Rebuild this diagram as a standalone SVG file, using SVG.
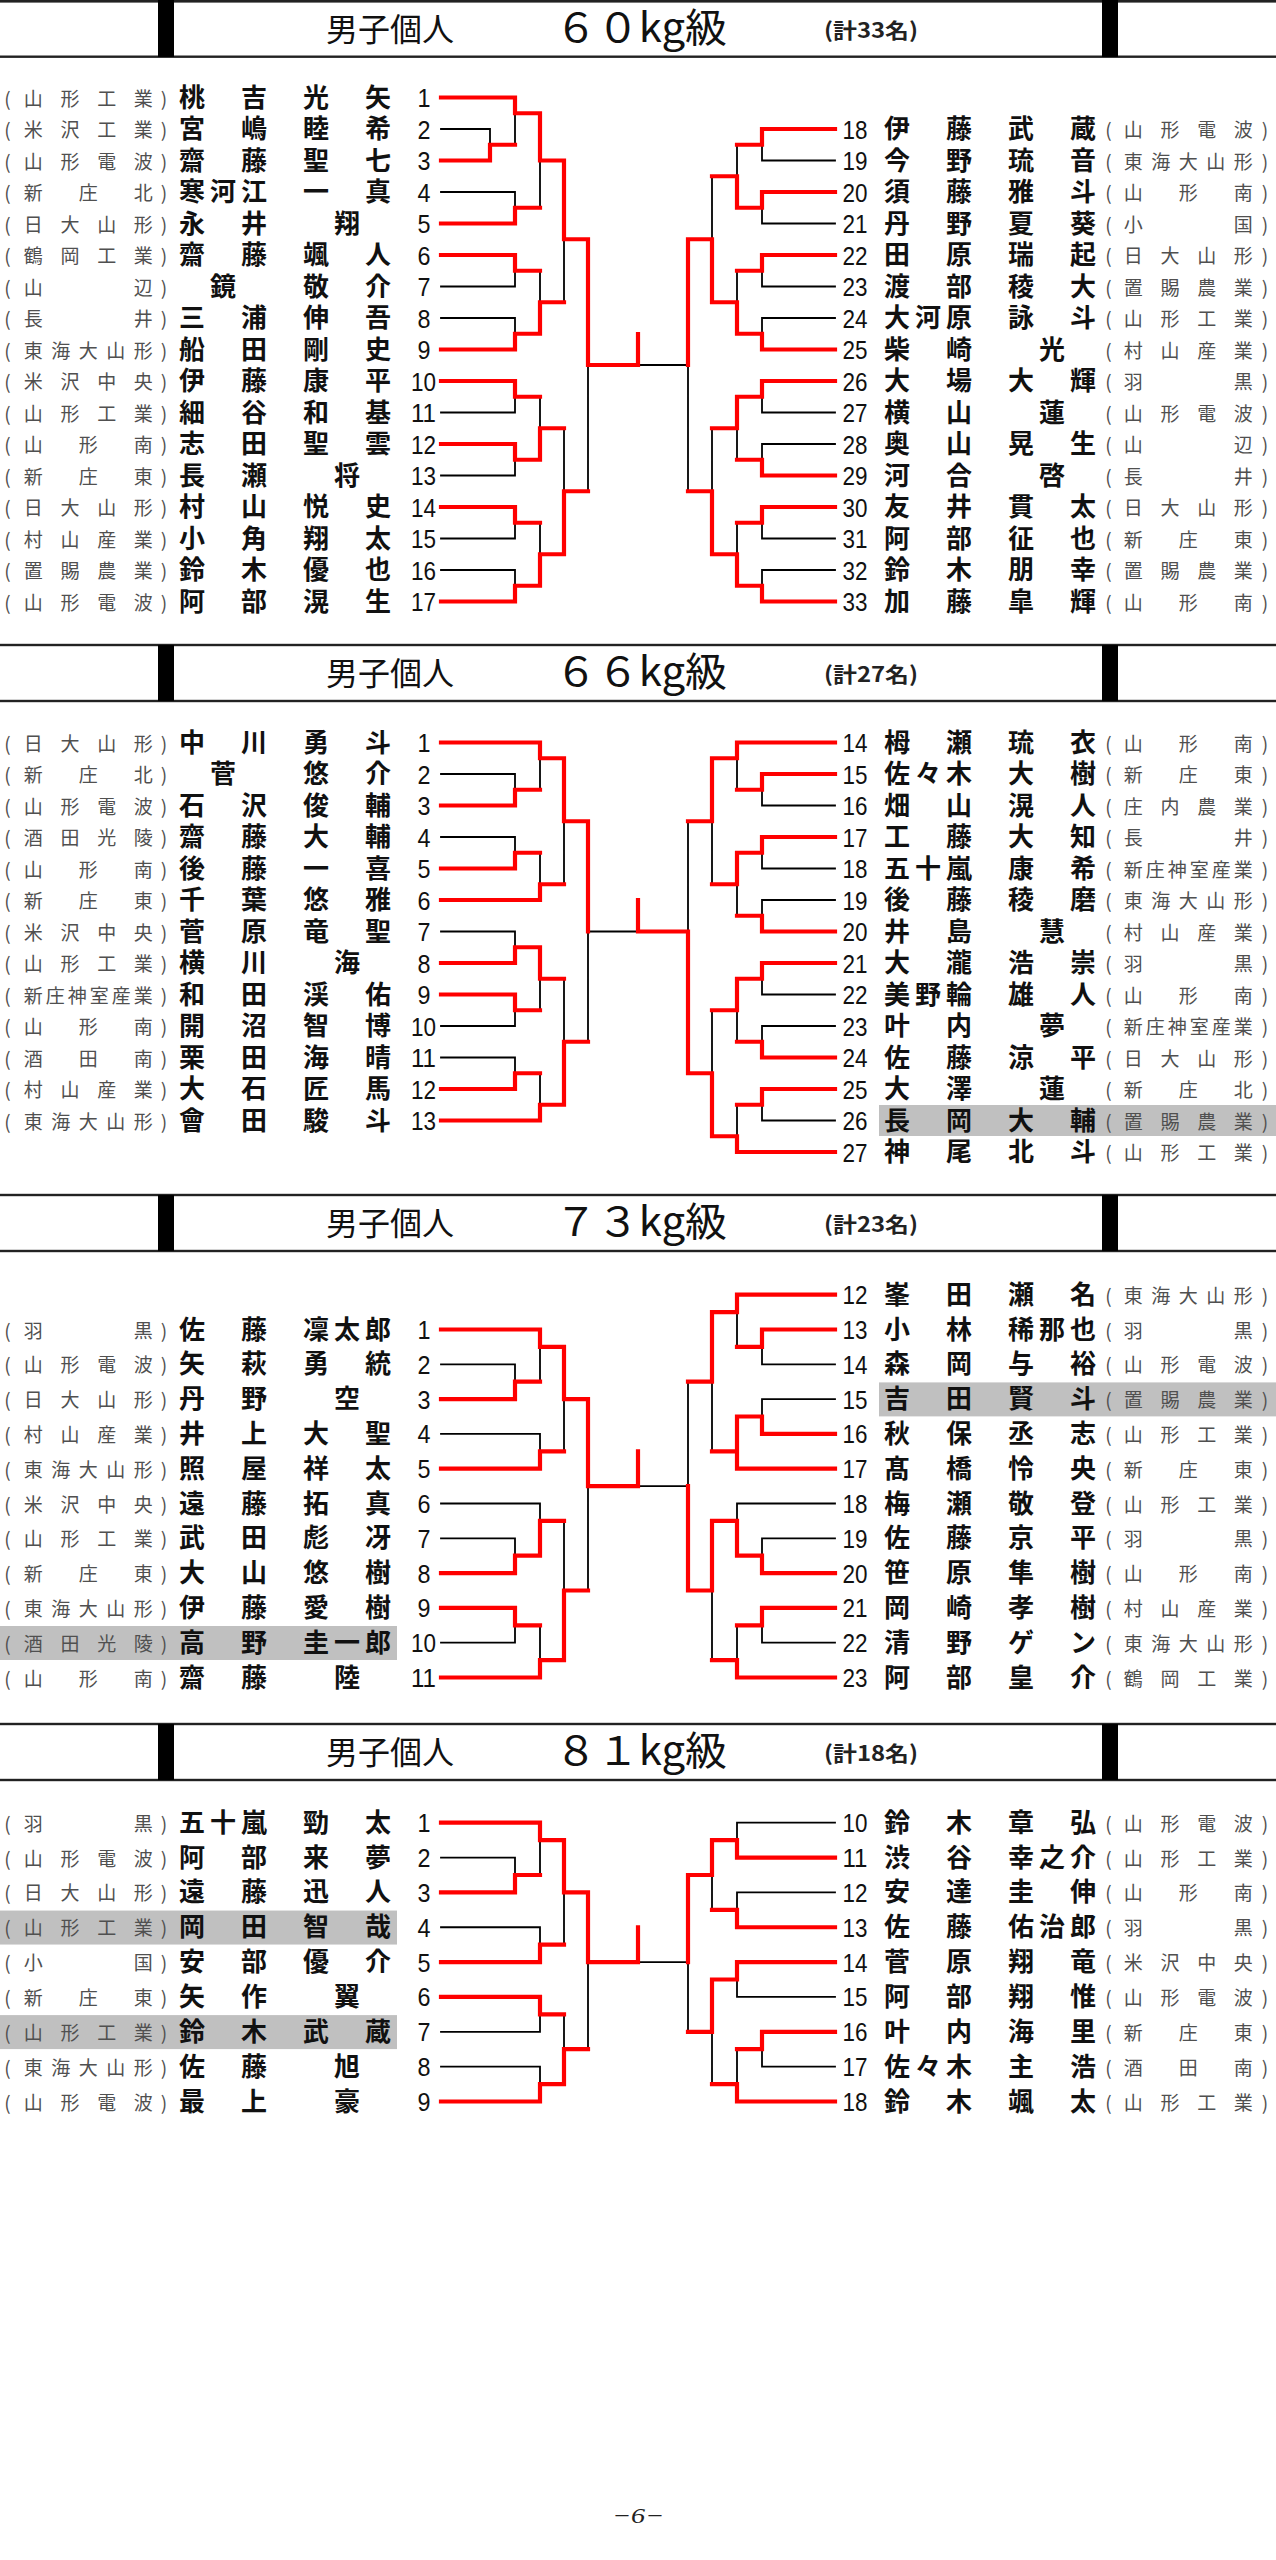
<svg xmlns="http://www.w3.org/2000/svg" width="1276" height="2560" viewBox="0 0 1276 2560">
<style>
.bg{fill:#fff}
.hl{fill:#c0c0c0}
.rule{fill:#222}
.bar{fill:#000}
.t1{font-family:"Noto Sans CJK JP","Noto Sans CJK SC",sans-serif;font-size:32px;fill:#111}
.t2{font-family:"Noto Sans CJK JP","Noto Sans CJK SC",sans-serif;font-size:40px;fill:#111}
.t3{font-family:"Noto Sans CJK JP","Noto Sans CJK SC",sans-serif;font-size:21px;font-weight:700;fill:#222}
.s{font-family:"Noto Sans CJK JP","Noto Sans CJK SC",sans-serif;font-size:19px;fill:#505050;text-anchor:middle}
.n{font-family:"Noto Sans CJK JP","Noto Sans CJK SC",sans-serif;font-size:26px;font-weight:700;fill:#111;text-anchor:middle}
.d{font-family:"Liberation Sans",Arial,sans-serif;font-size:26px;fill:#111;text-anchor:middle}
.blk{fill:none;stroke:#000;stroke-width:1.8;stroke-linecap:square}
.red{fill:none;stroke:#ff0000;stroke-width:4.2;stroke-linecap:square;stroke-linejoin:miter}
.ft{font-family:"Liberation Serif",serif;font-style:italic;font-size:22px;fill:#222;text-anchor:middle}
</style>
<rect class="bg" x="0" y="0" width="1276" height="2560"/>

<!-- headers -->
<g id="hdr60">
<rect class="rule" x="0" y="0" width="1276" height="2.6"/>
<rect class="rule" x="0" y="55.5" width="1276" height="2.4"/>
<rect class="bar" x="158" y="0" width="16" height="57"/>
<rect class="bar" x="1102" y="0" width="16" height="57"/>
<text class="t1" x="326" y="41">男子個人</text>
<text class="t2" x="555" y="42" textLength="172" lengthAdjust="spacingAndGlyphs">６０kg級</text>
<text class="t3" x="824" y="38" textLength="94" lengthAdjust="spacingAndGlyphs">(計33名)</text>
</g>
<g id="hdr66">
<rect class="rule" x="0" y="643.8" width="1276" height="2.4"/>
<rect class="rule" x="0" y="699.8" width="1276" height="2.4"/>
<rect class="bar" x="158" y="645" width="16" height="56"/>
<rect class="bar" x="1102" y="645" width="16" height="56"/>
<text class="t1" x="326" y="685">男子個人</text>
<text class="t2" x="555" y="686" textLength="172" lengthAdjust="spacingAndGlyphs">６６kg級</text>
<text class="t3" x="824" y="682" textLength="94" lengthAdjust="spacingAndGlyphs">(計27名)</text>
</g>
<g id="hdr73">
<rect class="rule" x="0" y="1193.8" width="1276" height="2.4"/>
<rect class="rule" x="0" y="1249.8" width="1276" height="2.4"/>
<rect class="bar" x="158" y="1195" width="16" height="56"/>
<rect class="bar" x="1102" y="1195" width="16" height="56"/>
<text class="t1" x="326" y="1235">男子個人</text>
<text class="t2" x="555" y="1236" textLength="172" lengthAdjust="spacingAndGlyphs">７３kg級</text>
<text class="t3" x="824" y="1232" textLength="94" lengthAdjust="spacingAndGlyphs">(計23名)</text>
</g>
<g id="hdr81">
<rect class="rule" x="0" y="1722.8" width="1276" height="2.4"/>
<rect class="rule" x="0" y="1778.8" width="1276" height="2.4"/>
<rect class="bar" x="158" y="1724" width="16" height="56"/>
<rect class="bar" x="1102" y="1724" width="16" height="56"/>
<text class="t1" x="326" y="1764">男子個人</text>
<text class="t2" x="555" y="1765" textLength="172" lengthAdjust="spacingAndGlyphs">８１kg級</text>
<text class="t3" x="824" y="1761" textLength="94" lengthAdjust="spacingAndGlyphs">(計18名)</text>
</g>

<!-- connectors -->
<g id="connectors">
<path class="blk" d="M441 129H490M441 192H515M441 286.5H515M441 318H515M441 412.5H515M441 475.5H515M441 538.5H515M441 570H515
M490 129V144.75M515 113.25V144.75M515 192V207.75M540 160.5V207.75M515 270.75V286.5M515 318V333.75M540 270.75V302.25M564 239.25V302.25M515 396.75V412.5M515 459.75V475.5M540 396.75V428.25M515 522.75V538.5M515 570V585.75M540 522.75V554.25M564 428.25V491.25M588 365V491.25
M638 365H688
M762 160.5H835M762 223.5H835M762 286.5H835M762 318H835M762 412.5H835M762 444H835M762 538.5H835M762 570H835
M762 144.75V160.5M762 207.75V223.5M762 270.75V286.5M762 318V333.75M737 144.75V176.25M737 270.75V302.25M712 176.25V239.25M762 396.75V412.5M762 444V459.75M737 428.25V459.75M762 522.75V538.5M762 570V585.75M737 522.75V554.25M712 428.25V491.25M688 365V491.25"/>
<path class="red" d="M441 97.5H515V113.25H540M441 160.5H490V144.75H515M441 223.5H515V207.75H540M540 113.25V160.5H564M441 255H515V270.75H540M441 349.5H515V333.75H540M540 333.75V302.25H564M564 160.5V239.25H588
M441 381H515V396.75H540M441 444H515V459.75H540M540 459.75V428.25H564M441 507H515V522.75H540M441 601.5H515V585.75H540M540 585.75V554.25H564M564 554.25V491.25H588M588 239.25V365H638M638 334V365
M835 129H762V144.75H737M835 192H762V207.75H737M835 255H762V270.75H737M835 349.5H762V333.75H737M737 207.75V176.25H712M737 333.75V302.25H712M712 302.25V239.25H688
M835 381H762V396.75H737M835 475.5H762V459.75H737M737 396.75V428.25H712M835 507H762V522.75H737M835 601.5H762V585.75H737M737 585.75V554.25H712M712 554.25V491.25H688M688 239.25V365"/>

<path class="blk" d="M441 774H515M441 837H515M441 931.5H515M441 1026H515M441 1057.5H515
M515 774V789.75M540 758.25V789.75M515 837V852.75M540 852.75V884.25M564 821.25V884.25M515 931.5V947.25M515 1010.25V1026M540 978.75V1010.25M515 1057.5V1073.25M540 1073.25V1104.75M564 978.75V1041.75M588 931.5V1041.75M588 931.5H638
M762 805.5H835M762 868.5H835M762 900H835M762 994.5H835M762 1026H835M762 1120.5H835
M762 789.75V805.5M737 758.25V789.75M762 852.75V868.5M762 900V915.75M737 884.25V915.75M712 821.25V884.25M762 978.75V994.5M762 1026V1041.75M737 1010.25V1041.75M762 1104.75V1120.5M737 1104.75V1136.25M712 1010.25V1073.25M688 821.25V931.5"/>
<path class="red" d="M441 742.5H540V758.25H564M441 805.5H515V789.75H540M441 868.5H515V852.75H540M441 900H540V884.25H564M564 758.25V821.25H588
M441 963H515V947.25H540M441 994.5H515V1010.25H540M540 947.25V978.75H564M441 1089H515V1073.25H540M441 1120.5H540V1104.75H564M564 1104.75V1041.75H588M588 821.25V931.5
M638 900V931.5H688
M835 742.5H737V758.25H712M835 774H762V789.75H737M835 837H762V852.75H737M835 931.5H762V915.75H737M737 852.75V884.25H712M712 758.25V821.25H688
M835 963H762V978.75H737M835 1057.5H762V1041.75H737M737 978.75V1010.25H712M835 1089H762V1104.75H737M835 1152H737V1136.25H712M712 1136.25V1073.25H688M688 1073.25V931.5"/>

<path class="blk" d="M441 1364.3H515M441 1433.9H540M441 1503.5H540M441 1538.3H515M441 1642.7H515
M515 1364.3V1381.7M540 1346.9V1381.7M540 1433.9V1451.3M564 1399.1V1451.3M515 1538.3V1555.7M540 1503.5V1520.9M515 1625.3V1642.7M540 1625.3V1660.1M564 1520.9V1590.5M588 1486.1V1590.5M638 1486.1H688
M762 1364.3H835M762 1399.1H835M737 1503.5H835M762 1538.3H835M762 1642.7H835
M762 1346.9V1364.3M737 1312.1V1346.9M762 1399.1V1416.5M712 1381.7V1451.3M762 1538.3V1555.7M737 1503.5V1520.9M762 1625.3V1642.7M737 1625.3V1660.1M712 1590.5V1660.1M688 1381.7V1486.1"/>
<path class="red" d="M441 1329.5H540V1346.9H564M441 1399.1H515V1381.7H540M441 1468.7H540V1451.3H564M564 1346.9V1399.1H588
M441 1573.1H515V1555.7H540M540 1555.7V1520.9H564M441 1607.9H515V1625.3H540M441 1677.5H540V1660.1H564M564 1660.1V1590.5H588M588 1399.1V1486.1H638M638 1451.3V1486.1
M835 1294.7H737V1312.1H712M835 1329.5H762V1346.9H737M835 1433.9H762V1416.5H737M737 1416.5V1468.7H835M737 1451.3H712M712 1312.1V1381.7H688
M835 1573.1H762V1555.7H737M737 1555.7V1520.9H712M835 1607.9H762V1625.3H737M835 1677.5H737V1660.1H712M712 1520.9V1590.5H688M688 1590.5V1486.1"/>

<path class="blk" d="M441 1857.55H515M441 1927.25H540M441 2031.8H540M441 2066.65H540
M515 1857.55V1875M540 1840.1V1875M540 1927.25V1944.7M564 1892.4V1944.7M540 2014.4V2031.8M540 2066.65V2084.1M564 2014.4V2049.2M588 1962.1V2049.2M638 1962.1H688
M737 1822.7H835M737 1892.4H835M737 1996.95H835M762 2066.65H835
M737 1822.7V1840.1M737 1892.4V1909.8M712 1875V1909.8M737 1979.5V1996.95M762 2049.2V2066.65M737 2049.2V2084.1M712 2031.8V2084.1M688 1962.1V2031.8"/>
<path class="red" d="M441 1822.7H540V1840.1H564M441 1892.4H515V1875H540M441 1962.1H540V1944.7H564M564 1840.1V1892.4H588
M441 1996.95H540V2014.4H564M441 2101.5H540V2084.1H564M564 2084.1V2049.2H588M588 1892.4V1962.1H638M638 1927.25V1962.1
M835 1857.55H737V1840.1H712M835 1927.25H737V1909.8H712M712 1840.1V1875H688
M835 1962.1H737V1979.5H712M835 2031.8H762V2049.2H737M835 2101.5H737V2084.1H712M712 1979.5V2031.8H688M688 1875V1962.1"/>
</g>

<!-- 60kg left -->
<g id="p60-01" transform="translate(0 97.5)"><text class="s" x="7.5 33.3 70 106.7 143.3 164" y="8">(山形工業)</text><text class="n" x="192 254 316 378" y="9">桃吉光矢</text><text class="d" x="424" y="9.5" textLength="13" lengthAdjust="spacingAndGlyphs">1</text></g>
<g id="p60-02" transform="translate(0 129)"><text class="s" x="7.5 33.3 70 106.7 143.3 164" y="8">(米沢工業)</text><text class="n" x="192 254 316 378" y="9">宮嶋睦希</text><text class="d" x="424" y="9.5" textLength="13" lengthAdjust="spacingAndGlyphs">2</text></g>
<g id="p60-03" transform="translate(0 160.5)"><text class="s" x="7.5 33.3 70 106.7 143.3 164" y="8">(山形電波)</text><text class="n" x="192 254 316 378" y="9">齋藤聖七</text><text class="d" x="424" y="9.5" textLength="13" lengthAdjust="spacingAndGlyphs">3</text></g>
<g id="p60-04" transform="translate(0 192)"><text class="s" x="7.5 33.3 88.3 143.3 164" y="8">(新庄北)</text><text class="n" x="192 223 254 316 378" y="9">寒河江一真</text><text class="d" x="424" y="9.5" textLength="13" lengthAdjust="spacingAndGlyphs">4</text></g>
<g id="p60-05" transform="translate(0 223.5)"><text class="s" x="7.5 33.3 70 106.7 143.3 164" y="8">(日大山形)</text><text class="n" x="192 254 347" y="9">永井翔</text><text class="d" x="424" y="9.5" textLength="13" lengthAdjust="spacingAndGlyphs">5</text></g>
<g id="p60-06" transform="translate(0 255)"><text class="s" x="7.5 33.3 70 106.7 143.3 164" y="8">(鶴岡工業)</text><text class="n" x="192 254 316 378" y="9">齋藤颯人</text><text class="d" x="424" y="9.5" textLength="13" lengthAdjust="spacingAndGlyphs">6</text></g>
<g id="p60-07" transform="translate(0 286.5)"><text class="s" x="7.5 33.3 143.3 164" y="8">(山辺)</text><text class="n" x="223 316 378" y="9">鏡敬介</text><text class="d" x="424" y="9.5" textLength="13" lengthAdjust="spacingAndGlyphs">7</text></g>
<g id="p60-08" transform="translate(0 318)"><text class="s" x="7.5 33.3 143.3 164" y="8">(長井)</text><text class="n" x="192 254 316 378" y="9">三浦伸吾</text><text class="d" x="424" y="9.5" textLength="13" lengthAdjust="spacingAndGlyphs">8</text></g>
<g id="p60-09" transform="translate(0 349.5)"><text class="s" x="7.5 33.3 60.8 88.3 115.8 143.3 164" y="8">(東海大山形)</text><text class="n" x="192 254 316 378" y="9">船田剛史</text><text class="d" x="424" y="9.5" textLength="13" lengthAdjust="spacingAndGlyphs">9</text></g>
<g id="p60-10" transform="translate(0 381)"><text class="s" x="7.5 33.3 70 106.7 143.3 164" y="8">(米沢中央)</text><text class="n" x="192 254 316 378" y="9">伊藤康平</text><text class="d" x="423.5" y="9.5" textLength="25" lengthAdjust="spacingAndGlyphs">10</text></g>
<g id="p60-11" transform="translate(0 412.5)"><text class="s" x="7.5 33.3 70 106.7 143.3 164" y="8">(山形工業)</text><text class="n" x="192 254 316 378" y="9">細谷和基</text><text class="d" x="423.5" y="9.5" textLength="25" lengthAdjust="spacingAndGlyphs">11</text></g>
<g id="p60-12" transform="translate(0 444)"><text class="s" x="7.5 33.3 88.3 143.3 164" y="8">(山形南)</text><text class="n" x="192 254 316 378" y="9">志田聖雲</text><text class="d" x="423.5" y="9.5" textLength="25" lengthAdjust="spacingAndGlyphs">12</text></g>
<g id="p60-13" transform="translate(0 475.5)"><text class="s" x="7.5 33.3 88.3 143.3 164" y="8">(新庄東)</text><text class="n" x="192 254 347" y="9">長瀬将</text><text class="d" x="423.5" y="9.5" textLength="25" lengthAdjust="spacingAndGlyphs">13</text></g>
<g id="p60-14" transform="translate(0 507)"><text class="s" x="7.5 33.3 70 106.7 143.3 164" y="8">(日大山形)</text><text class="n" x="192 254 316 378" y="9">村山悦史</text><text class="d" x="423.5" y="9.5" textLength="25" lengthAdjust="spacingAndGlyphs">14</text></g>
<g id="p60-15" transform="translate(0 538.5)"><text class="s" x="7.5 33.3 70 106.7 143.3 164" y="8">(村山産業)</text><text class="n" x="192 254 316 378" y="9">小角翔太</text><text class="d" x="423.5" y="9.5" textLength="25" lengthAdjust="spacingAndGlyphs">15</text></g>
<g id="p60-16" transform="translate(0 570)"><text class="s" x="7.5 33.3 70 106.7 143.3 164" y="8">(置賜農業)</text><text class="n" x="192 254 316 378" y="9">鈴木優也</text><text class="d" x="423.5" y="9.5" textLength="25" lengthAdjust="spacingAndGlyphs">16</text></g>
<g id="p60-17" transform="translate(0 601.5)"><text class="s" x="7.5 33.3 70 106.7 143.3 164" y="8">(山形電波)</text><text class="n" x="192 254 316 378" y="9">阿部滉生</text><text class="d" x="423.5" y="9.5" textLength="25" lengthAdjust="spacingAndGlyphs">17</text></g>
<!-- 60kg right -->
<g id="p60-18" transform="translate(0 129)"><text class="d" x="855" y="9.5" textLength="25" lengthAdjust="spacingAndGlyphs">18</text><text class="n" x="897 959 1021 1083" y="9">伊藤武蔵</text><text class="s" x="1108.5 1133.3 1170 1206.7 1243.3 1265" y="8">(山形電波)</text></g>
<g id="p60-19" transform="translate(0 160.5)"><text class="d" x="855" y="9.5" textLength="25" lengthAdjust="spacingAndGlyphs">19</text><text class="n" x="897 959 1021 1083" y="9">今野琉音</text><text class="s" x="1108.5 1133.3 1160.8 1188.3 1215.8 1243.3 1265" y="8">(東海大山形)</text></g>
<g id="p60-20" transform="translate(0 192)"><text class="d" x="855" y="9.5" textLength="25" lengthAdjust="spacingAndGlyphs">20</text><text class="n" x="897 959 1021 1083" y="9">須藤雅斗</text><text class="s" x="1108.5 1133.3 1188.3 1243.3 1265" y="8">(山形南)</text></g>
<g id="p60-21" transform="translate(0 223.5)"><text class="d" x="855" y="9.5" textLength="25" lengthAdjust="spacingAndGlyphs">21</text><text class="n" x="897 959 1021 1083" y="9">丹野夏葵</text><text class="s" x="1108.5 1133.3 1243.3 1265" y="8">(小国)</text></g>
<g id="p60-22" transform="translate(0 255)"><text class="d" x="855" y="9.5" textLength="25" lengthAdjust="spacingAndGlyphs">22</text><text class="n" x="897 959 1021 1083" y="9">田原瑞起</text><text class="s" x="1108.5 1133.3 1170 1206.7 1243.3 1265" y="8">(日大山形)</text></g>
<g id="p60-23" transform="translate(0 286.5)"><text class="d" x="855" y="9.5" textLength="25" lengthAdjust="spacingAndGlyphs">23</text><text class="n" x="897 959 1021 1083" y="9">渡部稜大</text><text class="s" x="1108.5 1133.3 1170 1206.7 1243.3 1265" y="8">(置賜農業)</text></g>
<g id="p60-24" transform="translate(0 318)"><text class="d" x="855" y="9.5" textLength="25" lengthAdjust="spacingAndGlyphs">24</text><text class="n" x="897 928 959 1021 1083" y="9">大河原詠斗</text><text class="s" x="1108.5 1133.3 1170 1206.7 1243.3 1265" y="8">(山形工業)</text></g>
<g id="p60-25" transform="translate(0 349.5)"><text class="d" x="855" y="9.5" textLength="25" lengthAdjust="spacingAndGlyphs">25</text><text class="n" x="897 959 1052" y="9">柴崎光</text><text class="s" x="1108.5 1133.3 1170 1206.7 1243.3 1265" y="8">(村山産業)</text></g>
<g id="p60-26" transform="translate(0 381)"><text class="d" x="855" y="9.5" textLength="25" lengthAdjust="spacingAndGlyphs">26</text><text class="n" x="897 959 1021 1083" y="9">大場大輝</text><text class="s" x="1108.5 1133.3 1243.3 1265" y="8">(羽黒)</text></g>
<g id="p60-27" transform="translate(0 412.5)"><text class="d" x="855" y="9.5" textLength="25" lengthAdjust="spacingAndGlyphs">27</text><text class="n" x="897 959 1052" y="9">横山蓮</text><text class="s" x="1108.5 1133.3 1170 1206.7 1243.3 1265" y="8">(山形電波)</text></g>
<g id="p60-28" transform="translate(0 444)"><text class="d" x="855" y="9.5" textLength="25" lengthAdjust="spacingAndGlyphs">28</text><text class="n" x="897 959 1021 1083" y="9">奥山晃生</text><text class="s" x="1108.5 1133.3 1243.3 1265" y="8">(山辺)</text></g>
<g id="p60-29" transform="translate(0 475.5)"><text class="d" x="855" y="9.5" textLength="25" lengthAdjust="spacingAndGlyphs">29</text><text class="n" x="897 959 1052" y="9">河合啓</text><text class="s" x="1108.5 1133.3 1243.3 1265" y="8">(長井)</text></g>
<g id="p60-30" transform="translate(0 507)"><text class="d" x="855" y="9.5" textLength="25" lengthAdjust="spacingAndGlyphs">30</text><text class="n" x="897 959 1021 1083" y="9">友井貫太</text><text class="s" x="1108.5 1133.3 1170 1206.7 1243.3 1265" y="8">(日大山形)</text></g>
<g id="p60-31" transform="translate(0 538.5)"><text class="d" x="855" y="9.5" textLength="25" lengthAdjust="spacingAndGlyphs">31</text><text class="n" x="897 959 1021 1083" y="9">阿部征也</text><text class="s" x="1108.5 1133.3 1188.3 1243.3 1265" y="8">(新庄東)</text></g>
<g id="p60-32" transform="translate(0 570)"><text class="d" x="855" y="9.5" textLength="25" lengthAdjust="spacingAndGlyphs">32</text><text class="n" x="897 959 1021 1083" y="9">鈴木朋幸</text><text class="s" x="1108.5 1133.3 1170 1206.7 1243.3 1265" y="8">(置賜農業)</text></g>
<g id="p60-33" transform="translate(0 601.5)"><text class="d" x="855" y="9.5" textLength="25" lengthAdjust="spacingAndGlyphs">33</text><text class="n" x="897 959 1021 1083" y="9">加藤皐輝</text><text class="s" x="1108.5 1133.3 1188.3 1243.3 1265" y="8">(山形南)</text></g>

<!-- 66kg left -->
<g id="p66-01" transform="translate(0 742.5)"><text class="s" x="7.5 33.3 70 106.7 143.3 164" y="8">(日大山形)</text><text class="n" x="192 254 316 378" y="9">中川勇斗</text><text class="d" x="424" y="9.5" textLength="13" lengthAdjust="spacingAndGlyphs">1</text></g>
<g id="p66-02" transform="translate(0 774)"><text class="s" x="7.5 33.3 88.3 143.3 164" y="8">(新庄北)</text><text class="n" x="223 316 378" y="9">菅悠介</text><text class="d" x="424" y="9.5" textLength="13" lengthAdjust="spacingAndGlyphs">2</text></g>
<g id="p66-03" transform="translate(0 805.5)"><text class="s" x="7.5 33.3 70 106.7 143.3 164" y="8">(山形電波)</text><text class="n" x="192 254 316 378" y="9">石沢俊輔</text><text class="d" x="424" y="9.5" textLength="13" lengthAdjust="spacingAndGlyphs">3</text></g>
<g id="p66-04" transform="translate(0 837)"><text class="s" x="7.5 33.3 70 106.7 143.3 164" y="8">(酒田光陵)</text><text class="n" x="192 254 316 378" y="9">齋藤大輔</text><text class="d" x="424" y="9.5" textLength="13" lengthAdjust="spacingAndGlyphs">4</text></g>
<g id="p66-05" transform="translate(0 868.5)"><text class="s" x="7.5 33.3 88.3 143.3 164" y="8">(山形南)</text><text class="n" x="192 254 316 378" y="9">後藤一喜</text><text class="d" x="424" y="9.5" textLength="13" lengthAdjust="spacingAndGlyphs">5</text></g>
<g id="p66-06" transform="translate(0 900)"><text class="s" x="7.5 33.3 88.3 143.3 164" y="8">(新庄東)</text><text class="n" x="192 254 316 378" y="9">千葉悠雅</text><text class="d" x="424" y="9.5" textLength="13" lengthAdjust="spacingAndGlyphs">6</text></g>
<g id="p66-07" transform="translate(0 931.5)"><text class="s" x="7.5 33.3 70 106.7 143.3 164" y="8">(米沢中央)</text><text class="n" x="192 254 316 378" y="9">菅原竜聖</text><text class="d" x="424" y="9.5" textLength="13" lengthAdjust="spacingAndGlyphs">7</text></g>
<g id="p66-08" transform="translate(0 963)"><text class="s" x="7.5 33.3 70 106.7 143.3 164" y="8">(山形工業)</text><text class="n" x="192 254 347" y="9">横川海</text><text class="d" x="424" y="9.5" textLength="13" lengthAdjust="spacingAndGlyphs">8</text></g>
<g id="p66-09" transform="translate(0 994.5)"><text class="s" x="7.5 33.3 55.3 77.3 99.3 121.3 143.3 164" y="8">(新庄神室産業)</text><text class="n" x="192 254 316 378" y="9">和田渓佑</text><text class="d" x="424" y="9.5" textLength="13" lengthAdjust="spacingAndGlyphs">9</text></g>
<g id="p66-10" transform="translate(0 1026)"><text class="s" x="7.5 33.3 88.3 143.3 164" y="8">(山形南)</text><text class="n" x="192 254 316 378" y="9">開沼智博</text><text class="d" x="423.5" y="9.5" textLength="25" lengthAdjust="spacingAndGlyphs">10</text></g>
<g id="p66-11" transform="translate(0 1057.5)"><text class="s" x="7.5 33.3 88.3 143.3 164" y="8">(酒田南)</text><text class="n" x="192 254 316 378" y="9">栗田海晴</text><text class="d" x="423.5" y="9.5" textLength="25" lengthAdjust="spacingAndGlyphs">11</text></g>
<g id="p66-12" transform="translate(0 1089)"><text class="s" x="7.5 33.3 70 106.7 143.3 164" y="8">(村山産業)</text><text class="n" x="192 254 316 378" y="9">大石匠馬</text><text class="d" x="423.5" y="9.5" textLength="25" lengthAdjust="spacingAndGlyphs">12</text></g>
<g id="p66-13" transform="translate(0 1120.5)"><text class="s" x="7.5 33.3 60.8 88.3 115.8 143.3 164" y="8">(東海大山形)</text><text class="n" x="192 254 316 378" y="9">會田駿斗</text><text class="d" x="423.5" y="9.5" textLength="25" lengthAdjust="spacingAndGlyphs">13</text></g>
<!-- 66kg right -->
<g id="p66-14" transform="translate(0 742.5)"><text class="d" x="855" y="9.5" textLength="25" lengthAdjust="spacingAndGlyphs">14</text><text class="n" x="897 959 1021 1083" y="9">栂瀬琉衣</text><text class="s" x="1108.5 1133.3 1188.3 1243.3 1265" y="8">(山形南)</text></g>
<g id="p66-15" transform="translate(0 774)"><text class="d" x="855" y="9.5" textLength="25" lengthAdjust="spacingAndGlyphs">15</text><text class="n" x="897 928 959 1021 1083" y="9">佐々木大樹</text><text class="s" x="1108.5 1133.3 1188.3 1243.3 1265" y="8">(新庄東)</text></g>
<g id="p66-16" transform="translate(0 805.5)"><text class="d" x="855" y="9.5" textLength="25" lengthAdjust="spacingAndGlyphs">16</text><text class="n" x="897 959 1021 1083" y="9">畑山滉人</text><text class="s" x="1108.5 1133.3 1170 1206.7 1243.3 1265" y="8">(庄内農業)</text></g>
<g id="p66-17" transform="translate(0 837)"><text class="d" x="855" y="9.5" textLength="25" lengthAdjust="spacingAndGlyphs">17</text><text class="n" x="897 959 1021 1083" y="9">工藤大知</text><text class="s" x="1108.5 1133.3 1243.3 1265" y="8">(長井)</text></g>
<g id="p66-18" transform="translate(0 868.5)"><text class="d" x="855" y="9.5" textLength="25" lengthAdjust="spacingAndGlyphs">18</text><text class="n" x="897 928 959 1021 1083" y="9">五十嵐康希</text><text class="s" x="1108.5 1133.3 1155.3 1177.3 1199.3 1221.3 1243.3 1265" y="8">(新庄神室産業)</text></g>
<g id="p66-19" transform="translate(0 900)"><text class="d" x="855" y="9.5" textLength="25" lengthAdjust="spacingAndGlyphs">19</text><text class="n" x="897 959 1021 1083" y="9">後藤稜磨</text><text class="s" x="1108.5 1133.3 1160.8 1188.3 1215.8 1243.3 1265" y="8">(東海大山形)</text></g>
<g id="p66-20" transform="translate(0 931.5)"><text class="d" x="855" y="9.5" textLength="25" lengthAdjust="spacingAndGlyphs">20</text><text class="n" x="897 959 1052" y="9">井島慧</text><text class="s" x="1108.5 1133.3 1170 1206.7 1243.3 1265" y="8">(村山産業)</text></g>
<g id="p66-21" transform="translate(0 963)"><text class="d" x="855" y="9.5" textLength="25" lengthAdjust="spacingAndGlyphs">21</text><text class="n" x="897 959 1021 1083" y="9">大瀧浩崇</text><text class="s" x="1108.5 1133.3 1243.3 1265" y="8">(羽黒)</text></g>
<g id="p66-22" transform="translate(0 994.5)"><text class="d" x="855" y="9.5" textLength="25" lengthAdjust="spacingAndGlyphs">22</text><text class="n" x="897 928 959 1021 1083" y="9">美野輪雄人</text><text class="s" x="1108.5 1133.3 1188.3 1243.3 1265" y="8">(山形南)</text></g>
<g id="p66-23" transform="translate(0 1026)"><text class="d" x="855" y="9.5" textLength="25" lengthAdjust="spacingAndGlyphs">23</text><text class="n" x="897 959 1052" y="9">叶内夢</text><text class="s" x="1108.5 1133.3 1155.3 1177.3 1199.3 1221.3 1243.3 1265" y="8">(新庄神室産業)</text></g>
<g id="p66-24" transform="translate(0 1057.5)"><text class="d" x="855" y="9.5" textLength="25" lengthAdjust="spacingAndGlyphs">24</text><text class="n" x="897 959 1021 1083" y="9">佐藤涼平</text><text class="s" x="1108.5 1133.3 1170 1206.7 1243.3 1265" y="8">(日大山形)</text></g>
<g id="p66-25" transform="translate(0 1089)"><text class="d" x="855" y="9.5" textLength="25" lengthAdjust="spacingAndGlyphs">25</text><text class="n" x="897 959 1052" y="9">大澤蓮</text><text class="s" x="1108.5 1133.3 1188.3 1243.3 1265" y="8">(新庄北)</text></g>
<g id="p66-26" transform="translate(0 1120.5)"><rect class="hl" x="879" y="-15.5" width="397" height="31"/><text class="d" x="855" y="9.5" textLength="25" lengthAdjust="spacingAndGlyphs">26</text><text class="n" x="897 959 1021 1083" y="9">長岡大輔</text><text class="s" x="1108.5 1133.3 1170 1206.7 1243.3 1265" y="8">(置賜農業)</text></g>
<g id="p66-27" transform="translate(0 1152)"><text class="d" x="855" y="9.5" textLength="25" lengthAdjust="spacingAndGlyphs">27</text><text class="n" x="897 959 1021 1083" y="9">神尾北斗</text><text class="s" x="1108.5 1133.3 1170 1206.7 1243.3 1265" y="8">(山形工業)</text></g>

<!-- 73kg left -->
<g id="p73-01" transform="translate(0 1329.5)"><text class="s" x="7.5 33.3 143.3 164" y="8">(羽黒)</text><text class="n" x="192 254 316 347 378" y="9">佐藤凜太郎</text><text class="d" x="424" y="9.5" textLength="13" lengthAdjust="spacingAndGlyphs">1</text></g>
<g id="p73-02" transform="translate(0 1364.3)"><text class="s" x="7.5 33.3 70 106.7 143.3 164" y="8">(山形電波)</text><text class="n" x="192 254 316 378" y="9">矢萩勇統</text><text class="d" x="424" y="9.5" textLength="13" lengthAdjust="spacingAndGlyphs">2</text></g>
<g id="p73-03" transform="translate(0 1399.1)"><text class="s" x="7.5 33.3 70 106.7 143.3 164" y="8">(日大山形)</text><text class="n" x="192 254 347" y="9">丹野空</text><text class="d" x="424" y="9.5" textLength="13" lengthAdjust="spacingAndGlyphs">3</text></g>
<g id="p73-04" transform="translate(0 1433.9)"><text class="s" x="7.5 33.3 70 106.7 143.3 164" y="8">(村山産業)</text><text class="n" x="192 254 316 378" y="9">井上大聖</text><text class="d" x="424" y="9.5" textLength="13" lengthAdjust="spacingAndGlyphs">4</text></g>
<g id="p73-05" transform="translate(0 1468.7)"><text class="s" x="7.5 33.3 60.8 88.3 115.8 143.3 164" y="8">(東海大山形)</text><text class="n" x="192 254 316 378" y="9">照屋祥太</text><text class="d" x="424" y="9.5" textLength="13" lengthAdjust="spacingAndGlyphs">5</text></g>
<g id="p73-06" transform="translate(0 1503.5)"><text class="s" x="7.5 33.3 70 106.7 143.3 164" y="8">(米沢中央)</text><text class="n" x="192 254 316 378" y="9">遠藤拓真</text><text class="d" x="424" y="9.5" textLength="13" lengthAdjust="spacingAndGlyphs">6</text></g>
<g id="p73-07" transform="translate(0 1538.3)"><text class="s" x="7.5 33.3 70 106.7 143.3 164" y="8">(山形工業)</text><text class="n" x="192 254 316 378" y="9">武田彪冴</text><text class="d" x="424" y="9.5" textLength="13" lengthAdjust="spacingAndGlyphs">7</text></g>
<g id="p73-08" transform="translate(0 1573.1)"><text class="s" x="7.5 33.3 88.3 143.3 164" y="8">(新庄東)</text><text class="n" x="192 254 316 378" y="9">大山悠樹</text><text class="d" x="424" y="9.5" textLength="13" lengthAdjust="spacingAndGlyphs">8</text></g>
<g id="p73-09" transform="translate(0 1607.9)"><text class="s" x="7.5 33.3 60.8 88.3 115.8 143.3 164" y="8">(東海大山形)</text><text class="n" x="192 254 316 378" y="9">伊藤愛樹</text><text class="d" x="424" y="9.5" textLength="13" lengthAdjust="spacingAndGlyphs">9</text></g>
<g id="p73-10" transform="translate(0 1642.7)"><rect class="hl" x="0" y="-16.7" width="397" height="34"/><text class="s" x="7.5 33.3 70 106.7 143.3 164" y="8">(酒田光陵)</text><text class="n" x="192 254 316 347 378" y="9">高野圭一郎</text><text class="d" x="423.5" y="9.5" textLength="25" lengthAdjust="spacingAndGlyphs">10</text></g>
<g id="p73-11" transform="translate(0 1677.5)"><text class="s" x="7.5 33.3 88.3 143.3 164" y="8">(山形南)</text><text class="n" x="192 254 347" y="9">齋藤陸</text><text class="d" x="423.5" y="9.5" textLength="25" lengthAdjust="spacingAndGlyphs">11</text></g>
<!-- 73kg right -->
<g id="p73-12" transform="translate(0 1294.7)"><text class="d" x="855" y="9.5" textLength="25" lengthAdjust="spacingAndGlyphs">12</text><text class="n" x="897 959 1021 1083" y="9">峯田瀬名</text><text class="s" x="1108.5 1133.3 1160.8 1188.3 1215.8 1243.3 1265" y="8">(東海大山形)</text></g>
<g id="p73-13" transform="translate(0 1329.5)"><text class="d" x="855" y="9.5" textLength="25" lengthAdjust="spacingAndGlyphs">13</text><text class="n" x="897 959 1021 1052 1083" y="9">小林稀那也</text><text class="s" x="1108.5 1133.3 1243.3 1265" y="8">(羽黒)</text></g>
<g id="p73-14" transform="translate(0 1364.3)"><text class="d" x="855" y="9.5" textLength="25" lengthAdjust="spacingAndGlyphs">14</text><text class="n" x="897 959 1021 1083" y="9">森岡与裕</text><text class="s" x="1108.5 1133.3 1170 1206.7 1243.3 1265" y="8">(山形電波)</text></g>
<g id="p73-15" transform="translate(0 1399.1)"><rect class="hl" x="879" y="-16.7" width="397" height="34"/><text class="d" x="855" y="9.5" textLength="25" lengthAdjust="spacingAndGlyphs">15</text><text class="n" x="897 959 1021 1083" y="9">吉田賢斗</text><text class="s" x="1108.5 1133.3 1170 1206.7 1243.3 1265" y="8">(置賜農業)</text></g>
<g id="p73-16" transform="translate(0 1433.9)"><text class="d" x="855" y="9.5" textLength="25" lengthAdjust="spacingAndGlyphs">16</text><text class="n" x="897 959 1021 1083" y="9">秋保丞志</text><text class="s" x="1108.5 1133.3 1170 1206.7 1243.3 1265" y="8">(山形工業)</text></g>
<g id="p73-17" transform="translate(0 1468.7)"><text class="d" x="855" y="9.5" textLength="25" lengthAdjust="spacingAndGlyphs">17</text><text class="n" x="897 959 1021 1083" y="9">髙橋怜央</text><text class="s" x="1108.5 1133.3 1188.3 1243.3 1265" y="8">(新庄東)</text></g>
<g id="p73-18" transform="translate(0 1503.5)"><text class="d" x="855" y="9.5" textLength="25" lengthAdjust="spacingAndGlyphs">18</text><text class="n" x="897 959 1021 1083" y="9">梅瀬敬登</text><text class="s" x="1108.5 1133.3 1170 1206.7 1243.3 1265" y="8">(山形工業)</text></g>
<g id="p73-19" transform="translate(0 1538.3)"><text class="d" x="855" y="9.5" textLength="25" lengthAdjust="spacingAndGlyphs">19</text><text class="n" x="897 959 1021 1083" y="9">佐藤京平</text><text class="s" x="1108.5 1133.3 1243.3 1265" y="8">(羽黒)</text></g>
<g id="p73-20" transform="translate(0 1573.1)"><text class="d" x="855" y="9.5" textLength="25" lengthAdjust="spacingAndGlyphs">20</text><text class="n" x="897 959 1021 1083" y="9">笹原隼樹</text><text class="s" x="1108.5 1133.3 1188.3 1243.3 1265" y="8">(山形南)</text></g>
<g id="p73-21" transform="translate(0 1607.9)"><text class="d" x="855" y="9.5" textLength="25" lengthAdjust="spacingAndGlyphs">21</text><text class="n" x="897 959 1021 1083" y="9">岡崎孝樹</text><text class="s" x="1108.5 1133.3 1170 1206.7 1243.3 1265" y="8">(村山産業)</text></g>
<g id="p73-22" transform="translate(0 1642.7)"><text class="d" x="855" y="9.5" textLength="25" lengthAdjust="spacingAndGlyphs">22</text><text class="n" x="897 959 1021 1083" y="9">清野ゲン</text><text class="s" x="1108.5 1133.3 1160.8 1188.3 1215.8 1243.3 1265" y="8">(東海大山形)</text></g>
<g id="p73-23" transform="translate(0 1677.5)"><text class="d" x="855" y="9.5" textLength="25" lengthAdjust="spacingAndGlyphs">23</text><text class="n" x="897 959 1021 1083" y="9">阿部皇介</text><text class="s" x="1108.5 1133.3 1170 1206.7 1243.3 1265" y="8">(鶴岡工業)</text></g>

<!-- 81kg left -->
<g id="p81-01" transform="translate(0 1822.7)"><text class="s" x="7.5 33.3 143.3 164" y="8">(羽黒)</text><text class="n" x="192 223 254 316 378" y="9">五十嵐勁太</text><text class="d" x="424" y="9.5" textLength="13" lengthAdjust="spacingAndGlyphs">1</text></g>
<g id="p81-02" transform="translate(0 1857.55)"><text class="s" x="7.5 33.3 70 106.7 143.3 164" y="8">(山形電波)</text><text class="n" x="192 254 316 378" y="9">阿部来夢</text><text class="d" x="424" y="9.5" textLength="13" lengthAdjust="spacingAndGlyphs">2</text></g>
<g id="p81-03" transform="translate(0 1892.4)"><text class="s" x="7.5 33.3 70 106.7 143.3 164" y="8">(日大山形)</text><text class="n" x="192 254 316 378" y="9">遠藤迅人</text><text class="d" x="424" y="9.5" textLength="13" lengthAdjust="spacingAndGlyphs">3</text></g>
<g id="p81-04" transform="translate(0 1927.25)"><rect class="hl" x="0" y="-16.7" width="397" height="34"/><text class="s" x="7.5 33.3 70 106.7 143.3 164" y="8">(山形工業)</text><text class="n" x="192 254 316 378" y="9">岡田智哉</text><text class="d" x="424" y="9.5" textLength="13" lengthAdjust="spacingAndGlyphs">4</text></g>
<g id="p81-05" transform="translate(0 1962.1)"><text class="s" x="7.5 33.3 143.3 164" y="8">(小国)</text><text class="n" x="192 254 316 378" y="9">安部優介</text><text class="d" x="424" y="9.5" textLength="13" lengthAdjust="spacingAndGlyphs">5</text></g>
<g id="p81-06" transform="translate(0 1996.95)"><text class="s" x="7.5 33.3 88.3 143.3 164" y="8">(新庄東)</text><text class="n" x="192 254 347" y="9">矢作翼</text><text class="d" x="424" y="9.5" textLength="13" lengthAdjust="spacingAndGlyphs">6</text></g>
<g id="p81-07" transform="translate(0 2031.8)"><rect class="hl" x="0" y="-16.7" width="397" height="34"/><text class="s" x="7.5 33.3 70 106.7 143.3 164" y="8">(山形工業)</text><text class="n" x="192 254 316 378" y="9">鈴木武蔵</text><text class="d" x="424" y="9.5" textLength="13" lengthAdjust="spacingAndGlyphs">7</text></g>
<g id="p81-08" transform="translate(0 2066.65)"><text class="s" x="7.5 33.3 60.8 88.3 115.8 143.3 164" y="8">(東海大山形)</text><text class="n" x="192 254 347" y="9">佐藤旭</text><text class="d" x="424" y="9.5" textLength="13" lengthAdjust="spacingAndGlyphs">8</text></g>
<g id="p81-09" transform="translate(0 2101.5)"><text class="s" x="7.5 33.3 70 106.7 143.3 164" y="8">(山形電波)</text><text class="n" x="192 254 347" y="9">最上豪</text><text class="d" x="424" y="9.5" textLength="13" lengthAdjust="spacingAndGlyphs">9</text></g>
<!-- 81kg right -->
<g id="p81-10" transform="translate(0 1822.7)"><text class="d" x="855" y="9.5" textLength="25" lengthAdjust="spacingAndGlyphs">10</text><text class="n" x="897 959 1021 1083" y="9">鈴木章弘</text><text class="s" x="1108.5 1133.3 1170 1206.7 1243.3 1265" y="8">(山形電波)</text></g>
<g id="p81-11" transform="translate(0 1857.55)"><text class="d" x="855" y="9.5" textLength="25" lengthAdjust="spacingAndGlyphs">11</text><text class="n" x="897 959 1021 1052 1083" y="9">渋谷幸之介</text><text class="s" x="1108.5 1133.3 1170 1206.7 1243.3 1265" y="8">(山形工業)</text></g>
<g id="p81-12" transform="translate(0 1892.4)"><text class="d" x="855" y="9.5" textLength="25" lengthAdjust="spacingAndGlyphs">12</text><text class="n" x="897 959 1021 1083" y="9">安達圭伸</text><text class="s" x="1108.5 1133.3 1188.3 1243.3 1265" y="8">(山形南)</text></g>
<g id="p81-13" transform="translate(0 1927.25)"><text class="d" x="855" y="9.5" textLength="25" lengthAdjust="spacingAndGlyphs">13</text><text class="n" x="897 959 1021 1052 1083" y="9">佐藤佑治郎</text><text class="s" x="1108.5 1133.3 1243.3 1265" y="8">(羽黒)</text></g>
<g id="p81-14" transform="translate(0 1962.1)"><text class="d" x="855" y="9.5" textLength="25" lengthAdjust="spacingAndGlyphs">14</text><text class="n" x="897 959 1021 1083" y="9">菅原翔竜</text><text class="s" x="1108.5 1133.3 1170 1206.7 1243.3 1265" y="8">(米沢中央)</text></g>
<g id="p81-15" transform="translate(0 1996.95)"><text class="d" x="855" y="9.5" textLength="25" lengthAdjust="spacingAndGlyphs">15</text><text class="n" x="897 959 1021 1083" y="9">阿部翔惟</text><text class="s" x="1108.5 1133.3 1170 1206.7 1243.3 1265" y="8">(山形電波)</text></g>
<g id="p81-16" transform="translate(0 2031.8)"><text class="d" x="855" y="9.5" textLength="25" lengthAdjust="spacingAndGlyphs">16</text><text class="n" x="897 959 1021 1083" y="9">叶内海里</text><text class="s" x="1108.5 1133.3 1188.3 1243.3 1265" y="8">(新庄東)</text></g>
<g id="p81-17" transform="translate(0 2066.65)"><text class="d" x="855" y="9.5" textLength="25" lengthAdjust="spacingAndGlyphs">17</text><text class="n" x="897 928 959 1021 1083" y="9">佐々木主浩</text><text class="s" x="1108.5 1133.3 1188.3 1243.3 1265" y="8">(酒田南)</text></g>
<g id="p81-18" transform="translate(0 2101.5)"><text class="d" x="855" y="9.5" textLength="25" lengthAdjust="spacingAndGlyphs">18</text><text class="n" x="897 959 1021 1083" y="9">鈴木颯太</text><text class="s" x="1108.5 1133.3 1170 1206.7 1243.3 1265" y="8">(山形工業)</text></g>

<text id="footer" class="ft" x="638" y="2523" textLength="52" lengthAdjust="spacingAndGlyphs">−6−</text>
</svg>
